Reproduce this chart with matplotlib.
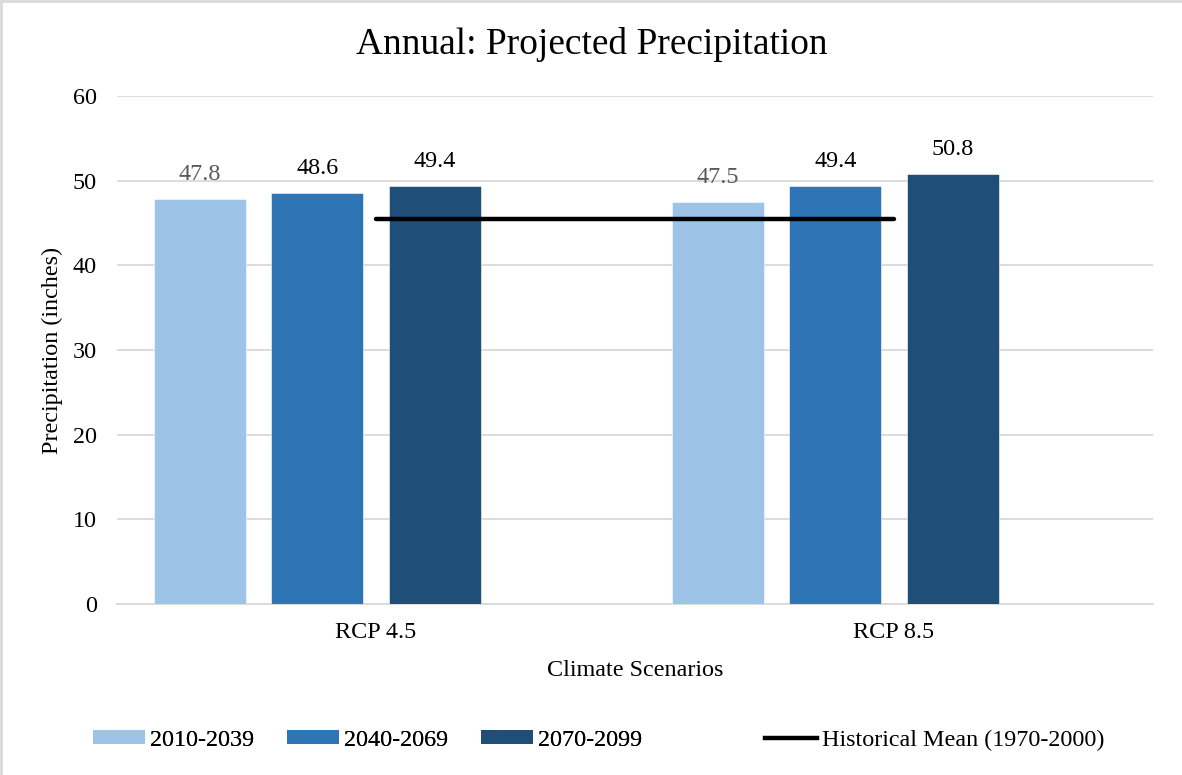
import matplotlib
matplotlib.use("Agg")
import matplotlib.pyplot as plt
from matplotlib.patches import Patch
from matplotlib.lines import Line2D
import numpy as np

# Data
scenarios = ["RCP 4.5", "RCP 8.5"]
periods = ["2010-2039", "2040-2069", "2070-2099"]
precip = {
    "2010-2039": [47.8, 47.5],
    "2040-2069": [48.6, 49.4],
    "2070-2099": [49.4, 50.8],
}
historical_mean = [45.5, 45.5]
historical_label = "Historical Mean (1970-2000)"

colors = ["#9DC3E6", "#2E75B6", "#1F4E79"]
label_colors = ["#595959", "#000000", "#000000"]

plt.rcParams["font.family"] = ["Liberation Serif", "DejaVu Serif"]

FS = 17.4
W, H = 1182, 775
fig = plt.figure(figsize=(W / 100, H / 100), dpi=100)
ax = fig.add_axes([117 / W, 1 - 604 / H, 1036 / W, 508 / H])

x = np.arange(len(scenarios))
step = 0.2268
width = 0.1784
for i, p in enumerate(periods):
    offs = (i - 1.5) * step
    bars = ax.bar(x + offs, precip[p], width=width, color=colors[i],
                  edgecolor="white", linewidth=0.4, zorder=3)
    for b, v in zip(bars, precip[p]):
        ax.annotate(f"{v:.1f}", (b.get_x() + b.get_width() / 2, v),
                    xytext=(0, 17.5), textcoords="offset points",
                    ha="center", va="center", fontsize=FS,
                    color=label_colors[i], zorder=5)

ax.plot(x, historical_mean, color="black", linewidth=3.2,
        solid_capstyle="round", zorder=4)

ax.set_xlim(-0.5, 1.5)
ax.set_ylim(0, 60)
ax.set_yticks(np.arange(0, 61, 10))
ax.set_xticks(x)
ax.set_xticklabels(scenarios)
ax.tick_params(axis="both", length=0, labelsize=FS, colors="black")
ax.tick_params(axis="y", pad=14.5)
ax.tick_params(axis="x", pad=13)
ax.grid(axis="y", color="#D9D9D9", linewidth=1.3, zorder=0)
for s in ["top", "right", "left"]:
    ax.spines[s].set_visible(False)
ax.spines["bottom"].set_color("#D9D9D9")
ax.spines["bottom"].set_linewidth(1.3)
ax.spines["bottom"].set_zorder(1)

fig.text(592 / W, 1 - 44 / H, "Annual: Projected Precipitation",
         ha="center", va="center", fontsize=26.9)
fig.text(635 / W, 1 - 670 / H, "Climate Scenarios",
         ha="center", va="center", fontsize=FS)
fig.text(52 / W, 1 - 351 / H, "Precipitation (inches)",
         ha="center", va="center", rotation=90, fontsize=FS)

# Legend: bar series, then the historical line
bar_handles = [Patch(facecolor=c, edgecolor="none") for c in colors]
leg1 = fig.legend(bar_handles, periods, loc="center left",
                  bbox_to_anchor=(93 / W, 1 - 740 / H), ncol=3,
                  frameon=False, fontsize=FS, handlelength=2.15,
                  handleheight=0.5, handletextpad=0.22,
                  columnspacing=1.35, borderpad=0, borderaxespad=0)
line_handle = [Line2D([0], [0], color="black", linewidth=3.2)]
fig.legend(line_handle, [historical_label], loc="center left",
           bbox_to_anchor=(765 / W, 1 - 740 / H), frameon=False,
           fontsize=FS, handlelength=2.15, handletextpad=0.2,
           borderpad=0, borderaxespad=0)
fig.add_artist(leg1)

# Chart area border (top and left edges)
fig.add_artist(Line2D([1 / W, 1 / W], [0, 1], color="#D9D9D9",
                      linewidth=2, transform=fig.transFigure))
fig.add_artist(Line2D([0, 1], [1 - 1 / H, 1 - 1 / H], color="#D9D9D9",
                      linewidth=2, transform=fig.transFigure))

fig.savefig("out.png", dpi=100, facecolor="white")
